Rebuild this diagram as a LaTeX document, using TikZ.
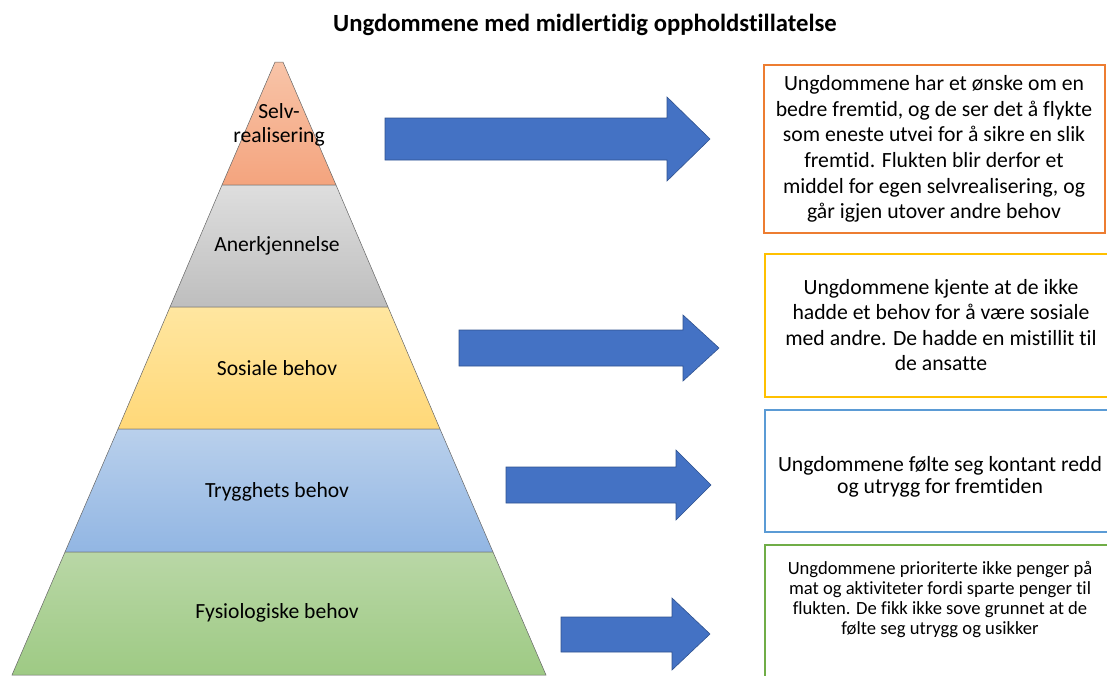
\documentclass[tikz,border=0pt]{standalone}
\usepackage{fontspec}
\setmainfont{Carlito}[Ligatures=NoCommon]
\usepackage{tikz}

\definecolor{pilblaa}{HTML}{4472C4}
\definecolor{pilkant}{HTML}{2F528F}
\definecolor{oransje}{HTML}{ED7D31}
\definecolor{gul}{HTML}{FFC000}
\definecolor{blaa}{HTML}{5B9BD5}
\definecolor{gronn}{HTML}{70AD47}

\begin{document}
\begin{tikzpicture}[x=1pt,y=-1pt]
\tikzset{niva/.style = {draw=gray!80!black, line width=0.5pt},
         pil/.style = {fill=pilblaa, draw=pilkant, line width=0.6pt},
         boks/.style = {line width=1.4pt},
         etikett/.style = {font=\fontsize{21.6}{24}\selectfont, align=center},
         tekst/.style = {font=\fontsize{21.7}{25.6}\selectfont, align=center}}
\useasboundingbox (0,0) rectangle (1107,675);

\node[font=\fontsize{24.7}{28}\selectfont\bfseries] (tittel) at (585,25) {Ungdommene med midlertidig oppholdstillatelse};

% pyramiden
\shadedraw[niva, top color={rgb,255:red,248;green,196;blue,168}, bottom color={rgb,255:red,244;green,164;blue,126}]
  (275,62) -- (283,62) -- (336,185) -- (222,185) -- cycle;
\shadedraw[niva, top color={rgb,255:red,222;green,222;blue,222}, bottom color={rgb,255:red,190;green,190;blue,190}]
  (222,185) -- (336,185) -- (388,307) -- (170,307) -- cycle;
\shadedraw[niva, top color={rgb,255:red,255;green,230;blue,160}, bottom color={rgb,255:red,255;green,216;blue,120}]
  (170,307) -- (388,307) -- (440,429) -- (118,429) -- cycle;
\shadedraw[niva, top color={rgb,255:red,185;green,208;blue,236}, bottom color={rgb,255:red,146;green,182;blue,227}]
  (118,429) -- (440,429) -- (493,552) -- (65,552) -- cycle;
\shadedraw[niva, top color={rgb,255:red,185;green,215;blue,166}, bottom color={rgb,255:red,158;green,202;blue,132}]
  (65,552) -- (493,552) -- (546,675) -- (12,675) -- cycle;

\node[etikett] (selv) at (279,125) {Selv-\\realisering};
\node[etikett] (aner) at (277,246) {Anerkjennelse};
\node[etikett] (sosial) at (277,368) {Sosiale behov};
\node[etikett] (trygg) at (277,492) {Trygghets behov};
\node[etikett] (fysio) at (277,613) {Fysiologiske behov};

% pilene
\draw[pil] (385,118) -- (667,118) -- (667,97) -- (710,139) -- (667,181) -- (667,160) -- (385,160) -- cycle;
\draw[pil] (459,330) -- (683,330) -- (683,315) -- (719,348) -- (683,381) -- (683,366) -- (459,366) -- cycle;
\draw[pil] (506,467) -- (676,467) -- (676,450) -- (711,485) -- (676,520) -- (676,503) -- (506,503) -- cycle;
\draw[pil] (561,617) -- (672,617) -- (672,598) -- (710,634) -- (672,670) -- (672,652) -- (561,652) -- cycle;

% boksene
\draw[boks, draw=oransje] (764,65) rectangle (1105,233);
\draw[boks, draw=gul] (765,254) rectangle (1120,397);
\draw[boks, draw=blaa] (765,410) rectangle (1120,532);
\draw[boks, draw=gronn] (765,545) rectangle (1120,690);

\node[tekst] (forklaringA) at (934,149) {Ungdommene har et ønske om en\\bedre fremtid, og de ser det å flykte\\som eneste utvei for å sikre en slik\\fremtid. Flukten blir derfor et\\middel for egen selvrealisering, og\\går igjen utover andre behov};
\node[tekst] (forklaringB) at (941,325) {Ungdommene kjente at de ikke\\hadde et behov for å være sosiale\\med andre. De hadde en mistillit til\\de ansatte};
\node[tekst, font=\fontsize{21.7}{21.7}\selectfont] (forklaringC) at (940,477) {Ungdommene følte seg kontant redd\\og utrygg for fremtiden};
\node[tekst, font=\fontsize{18.6}{20}\selectfont] (forklaringD) at (940,599) {Ungdommene prioriterte ikke penger på\\mat og aktiviteter fordi sparte penger til\\flukten. De fikk ikke sove grunnet at de\\følte seg utrygg og usikker};
\end{tikzpicture}
\end{document}
